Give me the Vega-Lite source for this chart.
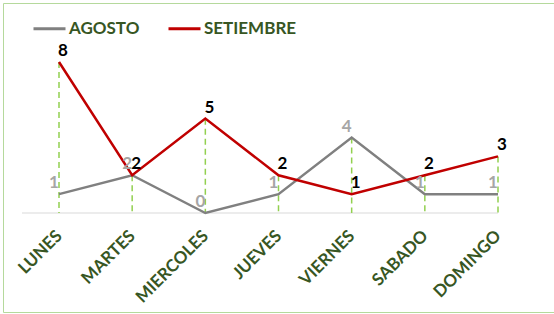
{
  "$schema": "https://vega.github.io/schema/vega-lite/v6.json",
  "width": 600,
  "height": 309,
  "padding": 3,
  "autosize": {"type": "none"},
  "background": "white",
  "config": {
    "view": {"stroke": "#b5d99c", "strokeWidth": 1},
    "font": "Lato"
  },
  "data": {
    "values": [
      {"dia": "LUNES", "mes": "AGOSTO", "valor": 1},
      {"dia": "MARTES", "mes": "AGOSTO", "valor": 2},
      {"dia": "MIERCOLES", "mes": "AGOSTO", "valor": 0},
      {"dia": "JUEVES", "mes": "AGOSTO", "valor": 1},
      {"dia": "VIERNES", "mes": "AGOSTO", "valor": 4},
      {"dia": "SABADO", "mes": "AGOSTO", "valor": 1},
      {"dia": "DOMINGO", "mes": "AGOSTO", "valor": 1},
      {"dia": "LUNES", "mes": "SETIEMBRE", "valor": 8},
      {"dia": "MARTES", "mes": "SETIEMBRE", "valor": 2},
      {"dia": "MIERCOLES", "mes": "SETIEMBRE", "valor": 5},
      {"dia": "JUEVES", "mes": "SETIEMBRE", "valor": 2},
      {"dia": "VIERNES", "mes": "SETIEMBRE", "valor": 1},
      {"dia": "SABADO", "mes": "SETIEMBRE", "valor": 2},
      {"dia": "DOMINGO", "mes": "SETIEMBRE", "valor": 3}
    ]
  },
  "encoding": {
    "x": {
      "field": "dia",
      "type": "nominal",
      "sort": ["LUNES", "MARTES", "MIERCOLES", "JUEVES", "VIERNES", "SABADO", "DOMINGO"],
      "scale": {"type": "point", "range": [56, 495], "padding": 0},
      "axis": {
        "orient": "bottom",
        "offset": -99,
        "title": null,
        "domain": false,
        "ticks": false,
        "grid": false,
        "labelAngle": -45,
        "labelAlign": "right",
        "labelBaseline": "middle",
        "labelFont": "Lato",
        "labelFontSize": 17,
        "labelFontWeight": "bold",
        "labelColor": "#375623",
        "labelPadding": 20
      }
    }
  },
  "layer": [
    {
      "data": {"values": [{"a": 1}]},
      "mark": {"type": "rule", "color": "#d9d9d9", "strokeWidth": 1},
      "encoding": {
        "x": {"datum": "LUNES", "type": "nominal", "sort": ["LUNES", "MARTES", "MIERCOLES", "JUEVES", "VIERNES", "SABADO", "DOMINGO"]},
        "x2": {"datum": "DOMINGO"},
        "xOffset": {"value": -37},
        "x2Offset": {"value": 7},
        "y": {"datum": 0, "type": "quantitative", "scale": {"domain": [0, 8], "range": [210, 59]}, "axis": null}
      }
    },
    {
      "transform": [
        {"aggregate": [{"op": "max", "field": "valor", "as": "maximo"}], "groupby": ["dia"]}
      ],
      "mark": {"type": "rule", "color": "#92d050", "strokeWidth": 1.5, "strokeDash": [6, 4]},
      "encoding": {
        "y": {"field": "maximo", "type": "quantitative", "scale": {"domain": [0, 8], "range": [210, 59]}, "axis": null},
        "y2": {"datum": 0}
      }
    },
    {
      "mark": {"type": "line", "strokeWidth": 2.5},
      "encoding": {
        "y": {"field": "valor", "type": "quantitative", "scale": {"domain": [0, 8], "range": [210, 59]}, "axis": null},
        "color": {
          "field": "mes",
          "type": "nominal",
          "scale": {"domain": ["AGOSTO", "SETIEMBRE"], "range": ["#808080", "#c00000"]},
          "legend": {
            "title": null,
            "orient": "none",
            "legendX": 29,
            "legendY": 8,
            "direction": "horizontal",
            "symbolType": "stroke",
            "symbolSize": 1024,
            "symbolStrokeWidth": 3,
            "labelFont": "Lato",
            "labelFontSize": 17,
            "labelFontWeight": "bold",
            "labelColor": "#375623",
            "labelOffset": 2,
            "columnPadding": 22
          }
        }
      }
    },
    {
      "transform": [{"filter": "datum.mes === 'AGOSTO'"}],
      "mark": {"type": "text", "dy": -11, "dx": -5, "font": "Lato", "fontSize": 17, "fontWeight": "bold", "color": "#a6a6a6"},
      "encoding": {
        "y": {"field": "valor", "type": "quantitative", "scale": {"domain": [0, 8], "range": [210, 59]}, "axis": null},
        "text": {"field": "valor", "type": "quantitative"}
      }
    },
    {
      "transform": [{"filter": "datum.mes === 'SETIEMBRE'"}],
      "mark": {"type": "text", "dy": -11, "dx": 4, "font": "Lato", "fontSize": 17, "fontWeight": "bold", "color": "#000000"},
      "encoding": {
        "y": {"field": "valor", "type": "quantitative", "scale": {"domain": [0, 8], "range": [210, 59]}, "axis": null},
        "text": {"field": "valor", "type": "quantitative"}
      }
    }
  ]
}
